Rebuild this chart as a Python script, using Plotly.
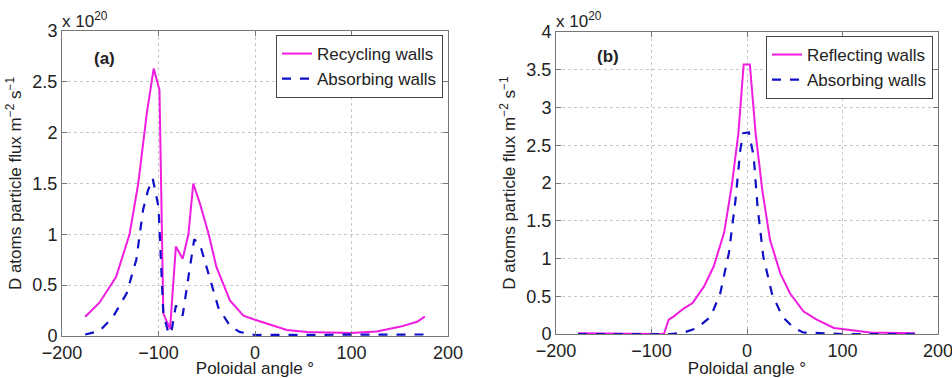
import plotly.graph_objects as go

# Panel (a)
a_rec_x = [-176, -161, -144, -130, -121, -112, -105, -99, -95, -88, -82, -75, -69, -64, -57, -48, -40, -26, -12, 0, 33, 54, 99, 126, 150, 168, 176]
a_rec_y = [0.19, 0.33, 0.58, 1.0, 1.5, 2.2, 2.63, 2.42, 0.22, 0.07, 0.88, 0.76, 1.0, 1.5, 1.3, 1.0, 0.68, 0.35, 0.2, 0.16, 0.06, 0.04, 0.03, 0.045, 0.09, 0.14, 0.19]
a_abs_x = [-176, -161, -147, -133, -123, -116, -111, -106, -100, -95, -90, -87, -82, -75, -69, -63, -57, -48, -38, -26, -16, 0, 50, 100, 150, 176]
a_abs_y = [0.015, 0.05, 0.19, 0.42, 0.75, 1.24, 1.43, 1.55, 1.27, 0.22, 0.04, 0.02, 0.3, 0.2, 0.58, 0.95, 0.9, 0.6, 0.28, 0.1, 0.04, 0.01, 0.01, 0.01, 0.01, 0.015]

# Panel (b)
b_ref_x = [-177, -120, -87, -82, -77, -66, -57, -45, -35, -24, -16, -9, -3.5, 3, 9, 16, 24, 35, 45, 59, 73, 91, 105, 129, 176]
b_ref_y = [0.01, 0.01, 0.0, 0.19, 0.23, 0.34, 0.41, 0.63, 0.89, 1.34, 1.96, 2.66, 3.57, 3.57, 2.66, 1.91, 1.25, 0.8, 0.54, 0.3, 0.19, 0.08, 0.06, 0.02, 0.01]
b_abs_x = [-177, -120, -80, -66, -52, -38, -28, -19, -12, -7, -4, 2, 7, 11, 17, 26, 37, 49, 59, 100, 177]
b_abs_y = [0.0, 0.0, 0.0, 0.02, 0.08, 0.23, 0.54, 1.07, 1.78, 2.44, 2.66, 2.67, 2.35, 1.69, 1.03, 0.54, 0.23, 0.08, 0.02, 0.0, 0.0]

x_ticks = [-200, -100, 0, 100, 200]
a_y_ticks = [0, 0.5, 1, 1.5, 2, 2.5, 3]
b_y_ticks = [0, 0.5, 1, 1.5, 2, 2.5, 3, 3.5, 4]

MAG = "#f01ce0"
BLUE = "#1010c8"
FONT = "Liberation Sans, Arial, sans-serif"

fig = go.Figure()
fig.add_trace(go.Scatter(x=a_rec_x, y=a_rec_y, mode="lines", name="Recycling walls",
                         line=dict(color=MAG, width=2), xaxis="x", yaxis="y", legend="legend"))
fig.add_trace(go.Scatter(x=a_abs_x, y=a_abs_y, mode="lines", name="Absorbing walls",
                         line=dict(color=BLUE, width=2.2, dash="dash"), xaxis="x", yaxis="y", legend="legend"))
fig.add_trace(go.Scatter(x=b_ref_x, y=b_ref_y, mode="lines", name="Reflecting walls",
                         line=dict(color=MAG, width=2), xaxis="x2", yaxis="y2", legend="legend2"))
fig.add_trace(go.Scatter(x=b_abs_x, y=b_abs_y, mode="lines", name="Absorbing walls",
                         line=dict(color=BLUE, width=2.2, dash="dash"), xaxis="x2", yaxis="y2", legend="legend2"))

ax_common = dict(showline=True, linecolor="#777", linewidth=1, mirror="allticks", ticks="inside",
                 ticklen=5, tickcolor="#777", showgrid=True, gridcolor="#c8c8c8", griddash="dot",
                 zeroline=False, automargin=False, ticklabeloverflow="allow",
                 tickfont=dict(size=18, color="#222", family=FONT))

YTITLE = "D atoms particle flux m<sup>−2</sup> s<sup>−1</sup>"
fig.update_layout(
    width=952, height=378, margin=dict(l=0, r=0, t=0, b=0, autoexpand=False),
    paper_bgcolor="white", plot_bgcolor="white",
    font=dict(family=FONT, size=17, color="#222"),
    xaxis=dict(domain=[62 / 952, 448 / 952], range=[-200, 200], tickvals=x_ticks, anchor="y",
               title=dict(text="Poloidal angle °", standoff=0, font=dict(size=17)), **ax_common),
    yaxis=dict(domain=[1 - 336 / 378, 1 - 31 / 378], range=[0, 3], tickvals=a_y_ticks, anchor="x",
               title=dict(text=YTITLE, standoff=6, font=dict(size=17)), **ax_common),
    xaxis2=dict(domain=[556 / 952, 938 / 952], range=[-200, 200], tickvals=x_ticks, anchor="y2",
                title=dict(text="Poloidal angle °", standoff=0, font=dict(size=17)), **ax_common),
    yaxis2=dict(domain=[1 - 334 / 378, 1 - 32 / 378], range=[0, 4], tickvals=b_y_ticks, anchor="x2",
                title=dict(text=YTITLE, standoff=6, font=dict(size=17)), **ax_common),
    legend=dict(x=443 / 952, y=1 - 35 / 378, xanchor="right", yanchor="top", bgcolor="white",
                bordercolor="#444", borderwidth=1, font=dict(size=17), tracegroupgap=0, itemwidth=30),
    legend2=dict(x=933 / 952, y=1 - 36 / 378, xanchor="right", yanchor="top", bgcolor="white",
                 bordercolor="#444", borderwidth=1, font=dict(size=17), tracegroupgap=0, itemwidth=30),
    showlegend=True,
)

fig.add_annotation(text="<b>(a)</b>", x=-156, y=2.73, xref="x", yref="y", showarrow=False, font=dict(size=17))
fig.add_annotation(text="<b>(b)</b>", x=-146, y=3.67, xref="x2", yref="y2", showarrow=False, font=dict(size=17))
fig.add_annotation(text="x 10<sup>20</sup>", x=60 / 952, y=1 - 20 / 378, xref="paper", yref="paper",
                   xanchor="left", yanchor="middle", showarrow=False, font=dict(size=17))
fig.add_annotation(text="x 10<sup>20</sup>", x=554 / 952, y=1 - 20 / 378, xref="paper", yref="paper",
                   xanchor="left", yanchor="middle", showarrow=False, font=dict(size=17))

fig.write_html("out.html")
